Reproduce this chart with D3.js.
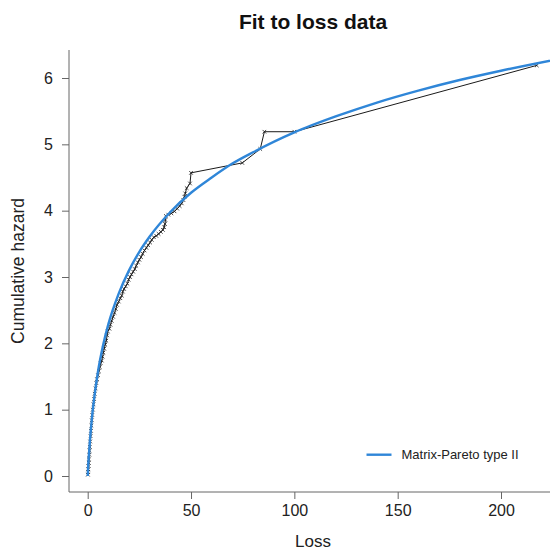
<!DOCTYPE html>
<html>
<head>
<meta charset="utf-8">
<script src="https://cdn.jsdelivr.net/npm/d3@7"></script>
<style>
  html, body { margin: 0; padding: 0; background: #fff; }
  svg { display: block; font-family: "Liberation Sans", Arial, Helvetica, sans-serif; }
</style>
</head>
<body>
<svg id="chart" width="550" height="550"></svg>
<script>
// ---- data ----
const empLoss = [0.1,0.2,0.3,0.4,0.5,0.6,0.8,0.9,1.0,1.2,1.4,1.6,1.8,2.0,2.2,2.5,2.8,3.1,3.4,3.8,4.2,4.5,5.0,5.4,5.9,6.3,6.8,7.2,7.6,8.0,8.5,9.0,9.4,9.7,10.5,11.0,11.6,12.3,13.0,13.6,14.2,15.0,15.8,16.5,17.0,17.6,18.4,19.2,19.8,20.5,21.2,22.0,22.8,23.5,24.3,25.0,25.8,26.6,27.5,28.4,29.3,30.2,31.0,32.0,33.2,34.3,35.4,36.4,37.0,37.4,37.6,37.8,39.0,40.5,42.0,43.3,44.5,45.5,46.3,46.8,47.2,47.9,49.5,50.0,74.8,83.5,85.5,100.0,217.3];
const empHazard = [0.02,0.06,0.10,0.15,0.20,0.25,0.32,0.38,0.44,0.52,0.60,0.68,0.76,0.84,0.92,1.00,1.08,1.16,1.24,1.32,1.40,1.46,1.52,1.58,1.64,1.70,1.74,1.80,1.86,1.92,1.98,2.04,2.12,2.18,2.22,2.28,2.34,2.40,2.46,2.52,2.58,2.63,2.68,2.72,2.78,2.82,2.86,2.90,2.96,3.00,3.04,3.08,3.12,3.17,3.22,3.26,3.30,3.35,3.40,3.44,3.48,3.52,3.56,3.60,3.62,3.65,3.68,3.71,3.75,3.80,3.86,3.92,3.94,3.96,3.99,4.03,4.07,4.11,4.16,4.21,4.26,4.34,4.41,4.57,4.72,4.93,5.19,5.19,6.19];

const fitLoss   = [0,0.25,0.5,1,2,3,5,7.5,10,15,20,25,30,40,50,60,70,80,100,120,140,160,180,200,230];
const fitHazard = [0,0.16,0.28,0.50,0.86,1.14,1.58,1.98,2.29,2.75,3.10,3.38,3.61,3.98,4.27,4.50,4.71,4.88,5.18,5.42,5.63,5.81,5.97,6.11,6.30];

const xTicks = [0,50,100,150,200];
const yTicks = [0,1,2,3,4,5,6];
const titleText = "Fit to loss data";
const xLabel = "Loss";
const yLabel = "Cumulative hazard";
const legendLabel = "Matrix-Pareto type II";

// ---- layout ----
const svg = d3.select("#chart");
const plot = { left: 69, right: 558, top: 50, bottom: 492 };
const x = d3.scaleLinear().domain([0, 200]).range([87.7, 501]);
const y = d3.scaleLinear().domain([0, 6]).range([476, 78]);
const axisColor = "#666";
const textColor = "#222";

svg.append("defs").append("clipPath").attr("id", "clip")
  .append("rect").attr("x", plot.left).attr("y", plot.top)
  .attr("width", plot.right - plot.left).attr("height", plot.bottom - plot.top);

// axes
const xAxis = d3.axisBottom(x).tickValues(xTicks).tickSize(7).tickPadding(6).tickFormat(d3.format("d"));
const gx = svg.append("g").attr("transform", `translate(0,${plot.bottom})`).call(xAxis);
gx.select(".domain").remove();
gx.selectAll("line").attr("stroke", axisColor).attr("stroke-width", 1);
gx.selectAll("text").attr("font-size", 16).attr("fill", textColor)
  .attr("font-family", "Liberation Sans, Arial, sans-serif");

const yAxis = d3.axisLeft(y).tickValues(yTicks).tickSize(7).tickPadding(9).tickFormat(d3.format("d"));
const gy = svg.append("g").attr("transform", `translate(${plot.left},0)`).call(yAxis);
gy.select(".domain").remove();
gy.selectAll("line").attr("stroke", axisColor).attr("stroke-width", 1);
gy.selectAll("text").attr("font-size", 16).attr("fill", textColor)
  .attr("font-family", "Liberation Sans, Arial, sans-serif");

// L-shaped box
svg.append("path")
  .attr("d", `M${plot.left},${plot.top}V${plot.bottom}H${plot.right}`)
  .attr("fill", "none").attr("stroke", axisColor).attr("stroke-width", 1);

// empirical line with x markers
const emp = empLoss.map((v, i) => ({ x: v, y: empHazard[i] }));
const g = svg.append("g").attr("clip-path", "url(#clip)");
g.append("path").datum(emp)
  .attr("d", d3.line().x(d => x(d.x)).y(d => y(d.y)))
  .attr("fill", "none").attr("stroke", "#1a1a1a").attr("stroke-width", 1);
const s = 1.8;
g.selectAll("path.mk").data(emp).join("path").attr("class", "mk")
  .attr("d", d => { const cx = x(d.x), cy = y(d.y);
    return `M${cx-s},${cy-s}L${cx+s},${cy+s}M${cx-s},${cy+s}L${cx+s},${cy-s}`; })
  .attr("stroke", "#1a1a1a").attr("stroke-width", 0.8).attr("fill", "none");

// fitted curve
const fit = fitLoss.map((v, i) => ({ x: v, y: fitHazard[i] }));
g.append("path").datum(fit)
  .attr("d", d3.line().x(d => x(d.x)).y(d => y(d.y)).curve(d3.curveMonotoneX))
  .attr("fill", "none").attr("stroke", "#2f86d8").attr("stroke-width", 2.4);

// title and labels
svg.append("text").attr("x", 313).attr("y", 29).attr("text-anchor", "middle")
  .attr("font-size", 21).attr("font-weight", "bold").attr("fill", "#111").text(titleText);
svg.append("text").attr("x", 313).attr("y", 547).attr("text-anchor", "middle")
  .attr("font-size", 17).attr("fill", textColor).text(xLabel);
svg.append("text").attr("transform", "translate(24,271) rotate(-90)").attr("text-anchor", "middle")
  .attr("font-size", 17.5).attr("fill", textColor).text(yLabel);

// legend
svg.append("line").attr("x1", 366.5).attr("x2", 391.5).attr("y1", 454.7).attr("y2", 454.7)
  .attr("stroke", "#2f86d8").attr("stroke-width", 2.4);
svg.append("text").attr("x", 401.5).attr("y", 459.2).attr("font-size", 13).attr("fill", textColor)
  .text(legendLabel);
</script>
</body>
</html>
